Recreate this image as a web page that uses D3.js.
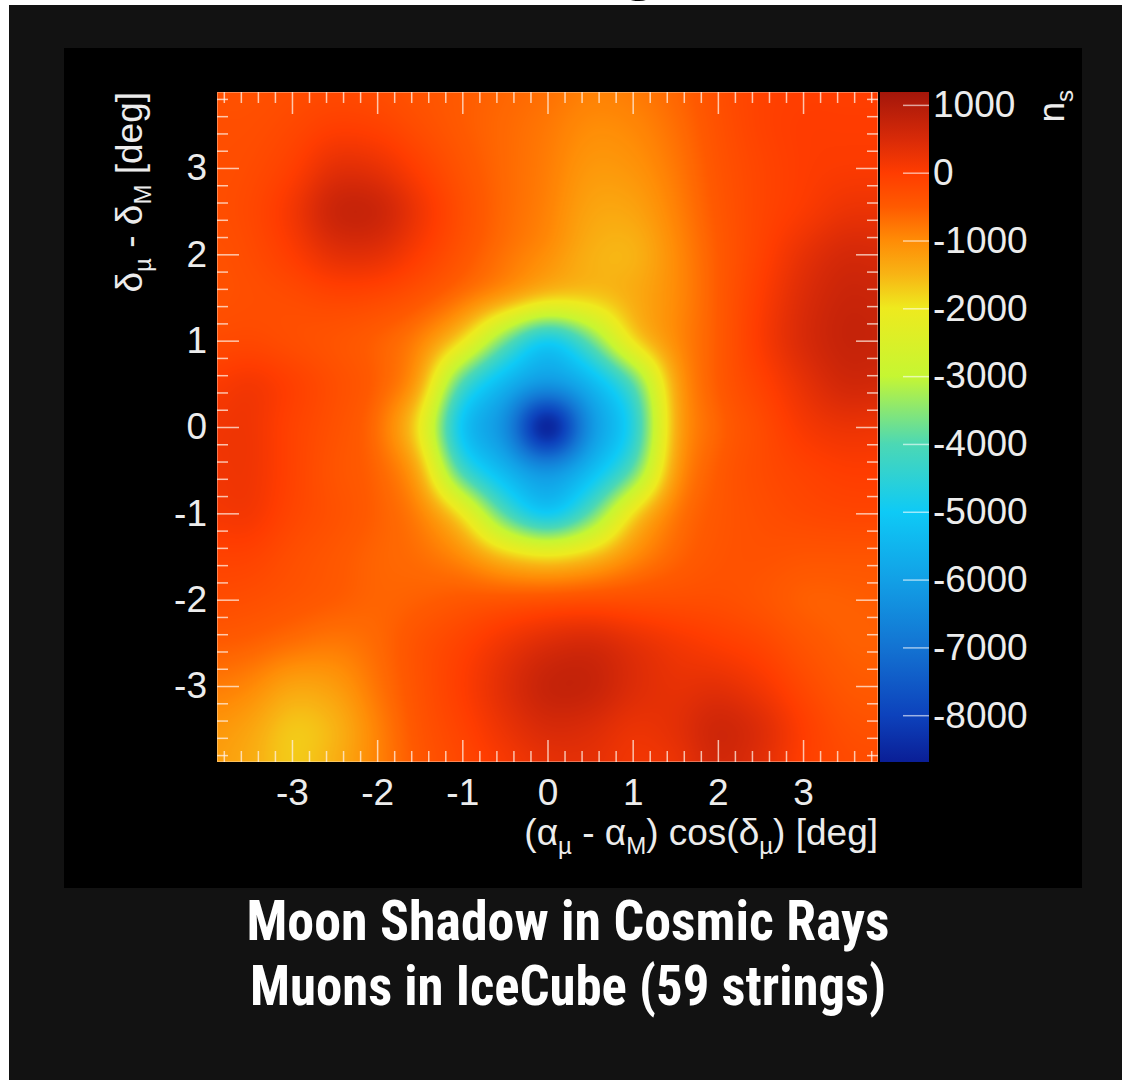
<!DOCTYPE html>
<html>
<head>
<meta charset="utf-8">
<script src="https://cdn.jsdelivr.net/npm/d3@7/dist/d3.min.js"></script>
<style>
html, body { margin: 0; padding: 0; background: #fff; }
svg { display: block; }
</style>
</head>
<body>
<div id="chart"></div>
<script>
"use strict";

// grid of n_s values, 0.5 deg steps
const xGrid = [-4, -3.5, -3, -2.5, -2, -1.5, -1, -0.5, 0, 0.5, 1, 1.5, 2, 2.5, 3, 3.5, 4];
const yGrid = [4, 3.5, 3, 2.5, 2, 1.5, 1, 0.5, 0, -0.5, -1, -1.5, -2, -2.5, -3, -3.5, -4];
const nsGrid = [
  [-350, -350, -300, -250, -300, -400, -500, -600, -700, -850, -800, -600, -300, -100, -50, -50, -50],
  [-300, -300, -200, -50, -100, -300, -500, -650, -800, -1000, -950, -700, -350, -100, 0, 0, 0],
  [-300, -250, -50, 350, 300, -50, -400, -650, -850, -1150, -1100, -800, -400, -150, 0, 50, 50],
  [-300, -200, 150, 700, 700, 200, -300, -650, -900, -1300, -1300, -900, -450, -150, 50, 250, 250],
  [-350, -250, 0, 350, 350, 0, -400, -750, -1050, -1450, -1500, -1000, -500, -100, 300, 550, 500],
  [-350, -300, -250, -150, -200, -400, -750, -1200, -1700, -1700, -1400, -1000, -500, 0, 450, 700, 650],
  [-250, -200, -300, -400, -550, -900, -1900, -3700, -5000, -3800, -1900, -1000, -500, 50, 500, 750, 700],
  [0, 150, -50, -300, -550, -1300, -4100, -5500, -6200, -5500, -4000, -1300, -500, -100, 300, 600, 550],
  [150, 200, -100, -350, -700, -2000, -5200, -6400, -8900, -6300, -4700, -1400, -600, -250, 100, 250, 200],
  [150, 200, -100, -400, -600, -1400, -4200, -5500, -6300, -5400, -3900, -1200, -500, -250, -100, 0, 0],
  [100, 150, -150, -350, -550, -900, -2000, -4000, -5100, -3900, -1900, -800, -450, -300, -200, -150, -150],
  [-100, -100, -300, -450, -600, -700, -1000, -1600, -1900, -1600, -1000, -600, -400, -350, -400, -400, -400],
  [-250, -300, -400, -500, -600, -550, -450, -400, -350, -300, -300, -300, -300, -400, -550, -550, -500],
  [-500, -550, -700, -800, -650, -350, -100, 200, 450, 550, 350, 150, 0, -150, -400, -550, -550],
  [-800, -950, -1300, -1200, -750, -350, 0, 400, 750, 750, 450, 300, 350, 150, -200, -450, -500],
  [-1100, -1300, -1700, -1500, -900, -400, -100, 250, 500, 450, 250, 350, 650, 450, 0, -300, -350],
  [-1200, -1400, -1700, -1400, -900, -450, -200, 50, 250, 300, 150, 200, 550, 350, -50, -200, -250]
];

const xTicks = [-3, -2, -1, 0, 1, 2, 3];
const yTicks = [-3, -2, -1, 0, 1, 2, 3];
const colorTicks = [1000, 0, -1000, -2000, -3000, -4000, -5000, -6000, -7000, -8000];
const axisExtent = [-3.88, 3.88];
const nsExtent = [-8690, 1190];

const colorStops = [-8690, -8000, -7000, -6000, -5000, -4000, -3000, -2000, -1500, -1000, -500, 0, 500, 1000, 1190];
const colorRange = ["#0a1e96", "#0d42bc", "#1373d2", "#12a0e6", "#0ecaf6", "#4cd8b4", "#c6f632", "#eeea1e",
                    "#f8b414", "#ff8c06", "#ff5a00", "#ff3c00", "#d82a08", "#b21c0a", "#a4160a"];

const titleLines = ["Moon Shadow in Cosmic Rays", "Muons in IceCube (59 strings)"];

const width = 1122, height = 1080;
const plot = {left: 217, right: 878, top: 92, bottom: 762};
const font = "'Liberation Sans', Arial, Helvetica, sans-serif";
const textColor = "#ececec";
const tickColor = "rgba(255,240,230,0.75)";

const svg = d3.select("#chart").append("svg")
  .attr("width", width)
  .attr("height", height);

// page background
svg.append("rect").attr("width", width).attr("height", height).attr("fill", "#fff");
svg.append("text")
  .attr("x", 640).attr("y", -14)
  .attr("text-anchor", "middle")
  .style("font", "bold 72px " + font)
  .attr("fill", "#000")
  .text("g");
svg.append("rect").attr("x", 9).attr("y", 5).attr("width", width - 9).attr("height", height - 5).attr("fill", "#121212");
svg.append("rect").attr("x", 64).attr("y", 48).attr("width", 1018).attr("height", 840).attr("fill", "#000");

const x = d3.scaleLinear().domain(axisExtent).range([plot.left, plot.right]);
const y = d3.scaleLinear().domain(axisExtent).range([plot.bottom, plot.top]);
const color = d3.scaleLinear().domain(colorStops).range(colorRange).interpolate(d3.interpolateRgb).clamp(true);
const cbar = d3.scaleLinear().domain(nsExtent).range([plot.bottom, plot.top]);

// heat map: smooth (Catmull-Rom) sampling of the grid, lightly smoothed
const W = plot.right - plot.left, H = plot.bottom - plot.top;
const canvas = document.createElement("canvas");
canvas.width = W; canvas.height = H;
const ctx = canvas.getContext("2d");
const img = ctx.createImageData(W, H);

const lut = [];
const lutN = 1024;
for (let k = 0; k < lutN; k++) {
  const v = nsExtent[0] + (nsExtent[1] - nsExtent[0]) * k / (lutN - 1);
  const c = d3.rgb(color(v));
  lut.push([c.r, c.g, c.b]);
}

function cr(p0, p1, p2, p3, t) {
  return 0.5 * (2 * p1 + (-p0 + p2) * t + (2 * p0 - 5 * p1 + 4 * p2 - p3) * t * t + (-p0 + 3 * p1 - 3 * p2 + p3) * t * t * t);
}
const nx = xGrid.length, ny = yGrid.length;
const stepX = xGrid[1] - xGrid[0], stepY = yGrid[0] - yGrid[1];
function clampI(i, n) { return Math.max(0, Math.min(n - 1, i)); }
function sample(xv, yv) {
  const gx = (xv - xGrid[0]) / stepX, gy = (yGrid[0] - yv) / stepY;
  const ix = Math.floor(gx), iy = Math.floor(gy);
  const tx = gx - ix, ty = gy - iy;
  const col = [];
  for (let j = -1; j <= 2; j++) {
    const r = nsGrid[clampI(iy + j, ny)];
    col.push(cr(r[clampI(ix - 1, nx)], r[clampI(ix, nx)], r[clampI(ix + 1, nx)], r[clampI(ix + 2, nx)], tx));
  }
  return cr(col[0], col[1], col[2], col[3], ty);
}

let field = new Float32Array(W * H);
for (let py = 0; py < H; py++) {
  const yv = y.invert(plot.top + py + 0.5);
  for (let px = 0; px < W; px++) {
    field[py * W + px] = sample(x.invert(plot.left + px + 0.5), yv);
  }
}

// box blur passes on the value field to round off grid corners
function boxBlur(src, horizontal, r) {
  const out = new Float32Array(W * H);
  const n = horizontal ? W : H, m = horizontal ? H : W;
  for (let a = 0; a < m; a++) {
    const idx = i => horizontal ? a * W + i : i * W + a;
    let sum = 0;
    for (let i = -r; i <= r; i++) sum += src[idx(clampI(i, n))];
    for (let i = 0; i < n; i++) {
      out[idx(i)] = sum / (2 * r + 1);
      sum += src[idx(clampI(i + r + 1, n))] - src[idx(clampI(i - r, n))];
    }
  }
  return out;
}
for (let pass = 0; pass < 3; pass++) {
  field = boxBlur(field, true, 8);
  field = boxBlur(field, false, 8);
}

for (let p = 0; p < W * H; p++) {
  let k = Math.round((field[p] - nsExtent[0]) / (nsExtent[1] - nsExtent[0]) * (lutN - 1));
  k = clampI(k, lutN);
  const o = p * 4;
  img.data[o] = lut[k][0];
  img.data[o + 1] = lut[k][1];
  img.data[o + 2] = lut[k][2];
  img.data[o + 3] = 255;
}
ctx.putImageData(img, 0, 0);

svg.append("image")
  .attr("x", plot.left).attr("y", plot.top)
  .attr("width", W).attr("height", H)
  .attr("preserveAspectRatio", "none")
  .attr("href", canvas.toDataURL());

// colour bar
const defs = svg.append("defs");
const grad = defs.append("linearGradient")
  .attr("id", "nsGrad")
  .attr("x1", 0).attr("y1", 1).attr("x2", 0).attr("y2", 0);
colorStops.forEach((v, i) => {
  grad.append("stop")
    .attr("offset", (v - nsExtent[0]) / (nsExtent[1] - nsExtent[0]))
    .attr("stop-color", colorRange[i]);
});
svg.append("rect")
  .attr("x", 880).attr("y", cbar(nsExtent[1]))
  .attr("width", 49).attr("height", cbar(nsExtent[0]) - cbar(nsExtent[1]))
  .attr("fill", "url(#nsGrad)");

// frame
svg.append("rect")
  .attr("x", plot.left + 0.5).attr("y", plot.top + 0.5)
  .attr("width", W - 1).attr("height", H - 1)
  .attr("fill", "none")
  .attr("stroke", "rgba(255,240,230,0.35)");

const minor = d3.range(-3.8, 3.81, 0.2).filter(d => Math.abs(d - Math.round(d)) > 0.01);

function styleAxis(g) {
  g.select(".domain").remove();
  g.selectAll(".tick line").attr("stroke", tickColor).attr("stroke-width", 1.5);
  g.selectAll(".tick text")
    .attr("fill", textColor)
    .style("font-family", font)
    .style("font-size", "37px");
}

// major ticks, labelled axes
svg.append("g")
  .attr("transform", `translate(0,${plot.bottom})`)
  .call(d3.axisBottom(x).tickValues(xTicks).tickSize(-22).tickPadding(17).tickFormat(d => String(d)))
  .call(styleAxis);
svg.append("g")
  .attr("transform", `translate(${plot.left},0)`)
  .call(d3.axisLeft(y).tickValues(yTicks).tickSize(-22).tickPadding(10).tickFormat(d => String(d)))
  .call(styleAxis);
svg.append("g")
  .attr("transform", `translate(0,${plot.top})`)
  .call(d3.axisTop(x).tickValues(xTicks).tickSize(-22).tickFormat(""))
  .call(styleAxis);
svg.append("g")
  .attr("transform", `translate(${plot.right},0)`)
  .call(d3.axisRight(y).tickValues(yTicks).tickSize(-22).tickFormat(""))
  .call(styleAxis);

// minor ticks
[[d3.axisBottom(x), `translate(0,${plot.bottom})`], [d3.axisTop(x), `translate(0,${plot.top})`],
 [d3.axisLeft(y), `translate(${plot.left},0)`], [d3.axisRight(y), `translate(${plot.right},0)`]]
  .forEach(([ax, tr]) => {
    svg.append("g").attr("transform", tr)
      .call(ax.tickValues(minor).tickSize(-11).tickFormat(""))
      .call(styleAxis);
  });

// colour bar axis
svg.append("g")
  .attr("transform", "translate(929,0)")
  .call(d3.axisRight(cbar).tickValues(colorTicks).tickSize(-26).tickPadding(4).tickFormat(d => String(d)))
  .call(styleAxis)
  .call(g => g.selectAll(".tick line").attr("stroke", "rgba(255,255,255,0.6)"));

// axis titles
const xt = svg.append("text")
  .attr("x", plot.right).attr("y", 845)
  .attr("text-anchor", "end")
  .attr("fill", textColor)
  .style("font-family", font).style("font-size", "37px");
xt.append("tspan").text("(α");
xt.append("tspan").attr("dy", 9).style("font-size", "24px").text("µ");
xt.append("tspan").attr("dy", -9).text(" - α");
xt.append("tspan").attr("dy", 9).style("font-size", "24px").text("M");
xt.append("tspan").attr("dy", -9).text(") cos(δ");
xt.append("tspan").attr("dy", 9).style("font-size", "24px").text("µ");
xt.append("tspan").attr("dy", -9).text(") [deg]");

const yt = svg.append("text")
  .attr("transform", `translate(142,${plot.top}) rotate(-90)`)
  .attr("text-anchor", "end")
  .attr("fill", textColor)
  .style("font-family", font).style("font-size", "37px");
yt.append("tspan").text("δ");
yt.append("tspan").attr("dy", 9).style("font-size", "24px").text("µ");
yt.append("tspan").attr("dy", -9).text(" - δ");
yt.append("tspan").attr("dy", 9).style("font-size", "24px").text("M");
yt.append("tspan").attr("dy", -9).text(" [deg]");

const nt = svg.append("text")
  .attr("transform", `translate(1064,${plot.top - 2}) rotate(-90)`)
  .attr("text-anchor", "end")
  .attr("fill", textColor)
  .style("font-family", font).style("font-size", "37px");
nt.append("tspan").text("n");
nt.append("tspan").attr("dy", 9).style("font-size", "24px").text("s");

// caption
svg.selectAll(".caption")
  .data(titleLines)
  .join("text")
  .attr("class", "caption")
  .attr("x", 568)
  .attr("y", (d, i) => 940 + i * 65)
  .attr("text-anchor", "middle")
  .attr("fill", "#fff")
  .attr("textLength", (d, i) => i === 0 ? 643 : 636)
  .attr("lengthAdjust", "spacingAndGlyphs")
  .style("font-family", "'Liberation Sans Narrow', 'Arial Narrow', 'Roboto Condensed', 'Liberation Sans', sans-serif")
  .style("font-weight", "700")
  .style("font-size", "56px")
  .text(d => d);
</script>
</body>
</html>
